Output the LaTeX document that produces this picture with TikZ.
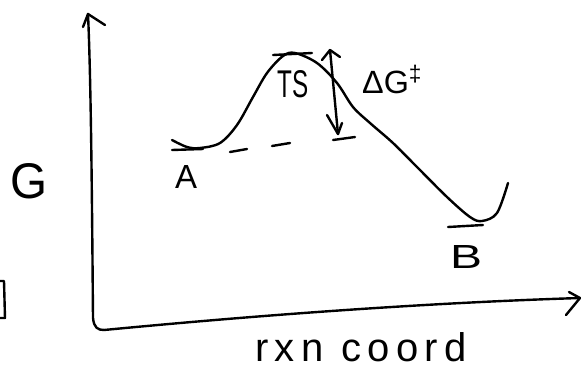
\documentclass[tikz,border=0pt]{standalone}
\usepackage{fontspec}
\setmainfont{Liberation Sans}
\newfontfamily\spreadfont[LetterSpace=16]{Liberation Sans}
\usepackage{graphicx}
\begin{document}
\begin{tikzpicture}[x=1pt,y=-1pt,
  ink/.style={line width=2.4pt,line cap=round,line join=round,black},
  lbl/.style={inner sep=0pt,anchor=base west}]
\useasboundingbox (0,0) rectangle (581,368);
% left cut-off fragment
\draw[ink,line cap=butt] (0,281) -- (4,281) -- (5,318) -- (0,318);
% y axis
\draw[ink] (88,14) .. controls (91,80) and (92,200) .. (93,318) .. controls (94,328) and (98,330) .. (104,330);
\draw[ink] (83,27) -- (88,14) -- (105,25);
% x axis
\draw[ink] (104,330) .. controls (250,316) and (420,303) .. (580,298);
\draw[ink] (569,292) -- (580,298) -- (566,315);
% energy curve
\draw[ink] plot[smooth,tension=0.55] coordinates {(172,140) (187,147) (200,148) (220,143) (237,125) (253,97) (267,73) (283,56) (295,53) (317,63) (337,83) (353,107) (370,123) (393,143) (417,167) (447,197) (470,217) (482,221) (497,213) (508,183)};
% level marks
\draw[ink] (172,150) -- (203,149);
\draw[ink] (273,55) -- (312,53);
\draw[ink] (333,140) -- (355,137);
\draw[ink] (448,227) -- (483,225);
% dashed reference level
\draw[ink] (230,152) -- (247,149);
\draw[ink] (272,146) -- (290,143);
% double arrow
\coordinate (top) at (330,50);
\coordinate (bot) at (338,134);
\draw[ink] (top) -- (bot);
\draw[ink] (322,60) -- (top) -- (340,57);
\draw[ink] (327,115) -- (bot) -- (342,123);
% labels
\node[lbl] (G) at (10,198) {\resizebox{37pt}{35pt}{G}};
\node[lbl] (A) at (175,188) {\resizebox{22pt}{23pt}{A}};
\node[lbl] (TS) at (277,97) {\resizebox{31pt}{27pt}{TS}};
\node[lbl] (dG) at (362,93) {\resizebox{61pt}{28pt}{ΔG\textsuperscript{‡}}};
\node[lbl] (B) at (450,268) {\resizebox{32pt}{23pt}{B}};
\node[lbl] (rxn) at (255,361) {\fontsize{40}{44}\spreadfont rxn coord};
\end{tikzpicture}
\end{document}
